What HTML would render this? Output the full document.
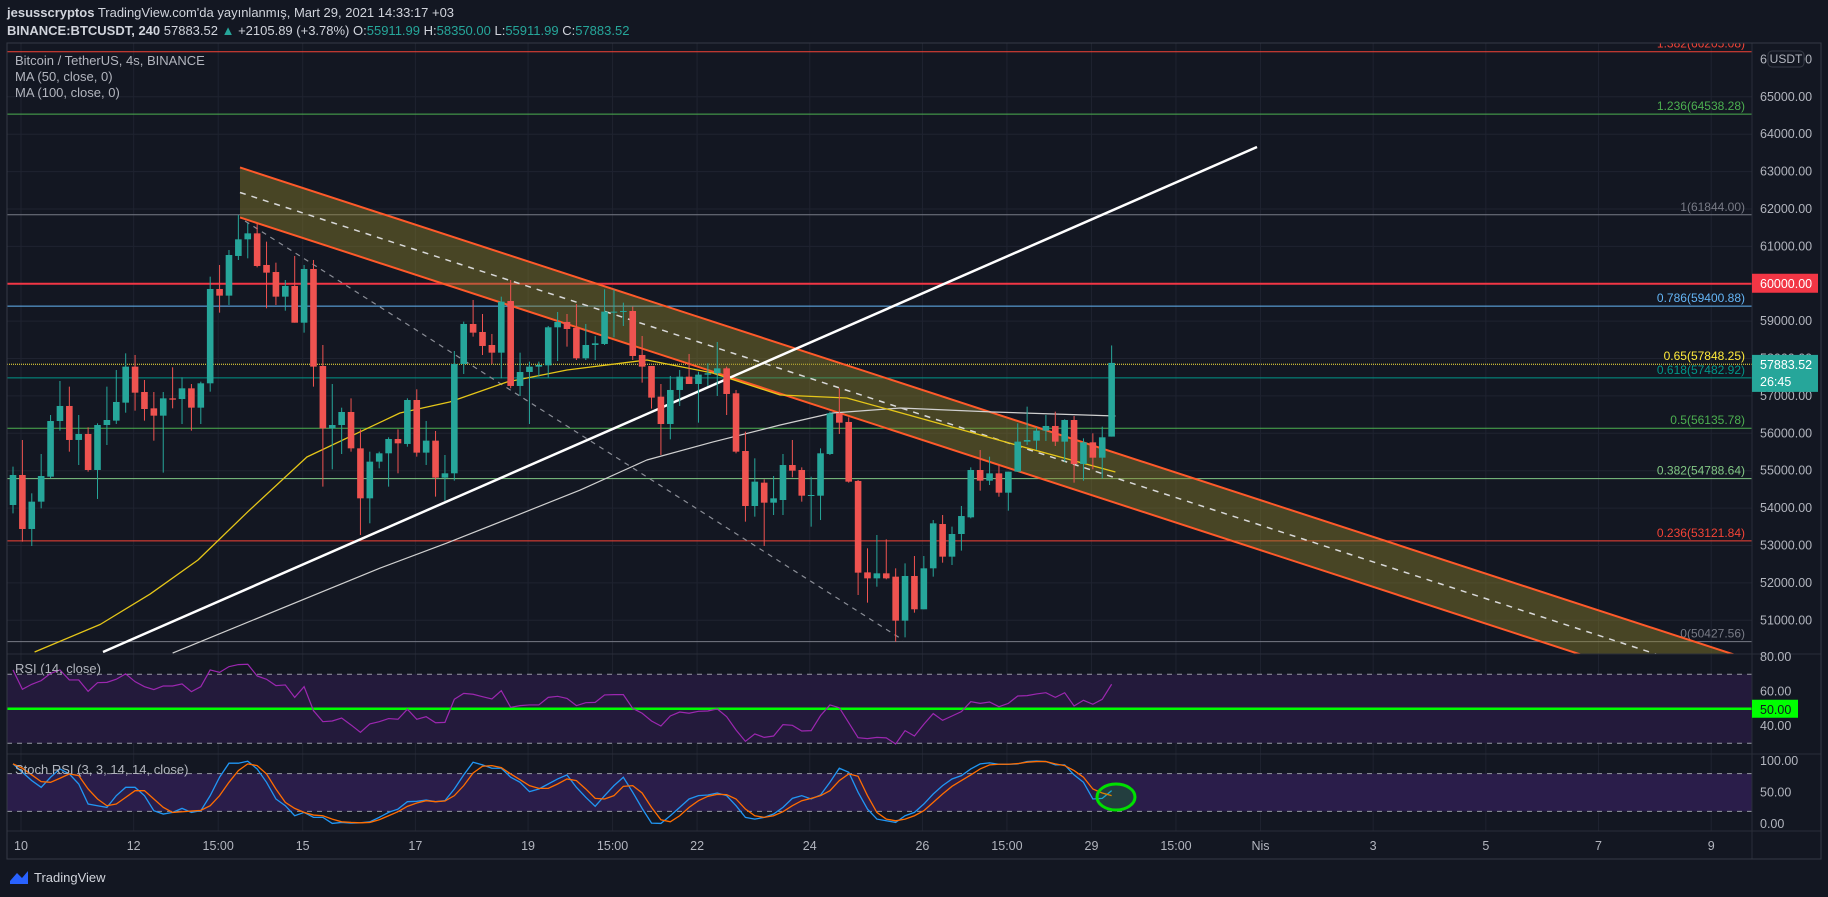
<!DOCTYPE html>
<html><head><meta charset="utf-8"><style>
html,body{margin:0;padding:0;background:#131722;}
svg{display:block;font-family:"Liberation Sans",sans-serif;}
</style></head><body>
<svg id="chart" width="1828" height="897" viewBox="0 0 1828 897" xmlns="http://www.w3.org/2000/svg">
<rect x="0" y="0" width="1828" height="897" fill="#131722"/>
<g font-size="13" fill="#d1d4dc">
<text x="7" y="17"><tspan font-weight="bold">jesusscryptos</tspan> TradingView.com'da yayınlanmış, Mart 29, 2021 14:33:17 +03</text>
<text x="7" y="35"><tspan font-weight="bold">BINANCE:BTCUSDT, 240</tspan> 57883.52 <tspan fill="#26a69a">▲</tspan> +2105.89 (+3.78%) O:<tspan fill="#26a69a">55911.99</tspan> H:<tspan fill="#26a69a">58350.00</tspan> L:<tspan fill="#26a69a">55911.99</tspan> C:<tspan fill="#26a69a">57883.52</tspan></text>
</g>
<defs>
<clipPath id="mainClip"><rect x="7" y="43" width="1745" height="611"/></clipPath>
<clipPath id="rsiClip"><rect x="7" y="654" width="1745" height="100"/></clipPath>
<clipPath id="stClip"><rect x="7" y="754" width="1745" height="77"/></clipPath>
</defs>
<g id="grid"></g>
<g id="main" clip-path="url(#mainClip)"></g>
<g id="rsi" clip-path="url(#rsiClip)"></g>
<g id="stoch" clip-path="url(#stClip)"></g>
<g id="axes"></g>
<g font-size="13" fill="#b2b5be">
<text x="15" y="65">Bitcoin / TetherUS, 4s, BINANCE</text>
<text x="15" y="81">MA (50, close, 0)</text>
<text x="15" y="97">MA (100, close, 0)</text>
<text x="15" y="673">RSI (14, close)</text>
<text x="15" y="774">Stoch RSI (3, 3, 14, 14, close)</text>
</g>
<g>
<path d="M10 881 L17 873 L22 878 L28 871 L28 884 L10 884 Z" fill="#2962ff"/>
<text x="34" y="882" font-size="13" fill="#d1d4dc">TradingView</text>
</g>
<script>
// ---------- data ----------
const opens=[54083,54885,53441,54172,54840,56329,56731,55822,55982,55019,56222,56339,56820,57783,57105,56668,56472,56935,56917,57203,56686,57337,59860,59682,60743,61188,61348,60502,60314,59655,59940,58959,60395,57800,56133,56222,56570,55598,54261,55242,55465,55848,55715,56891,55483,55804,54814,54930,57854,58924,58710,58362,58157,59539,57266,57640,57783,57818,58835,58978,58817,58006,58362,58389,59236,59254,59272,58095,57801,56980,56249,57159,57515,57319,57569,57605,57738,57070,55527,54056,54680,54145,54216,55152,55019,54332,54332,55447,56535,56303,54725,52281,52121,52255,52166,50989,52184,51293,52389,53574,52701,53307,53753,55019,54733,54929,54412,54974,55777,55803,56071,56196,55777,56356,55179,55759,55348,55911.99];
const highs=[55108,55821,54395,55447,56490,57399,57248,56490,56160,56267,57248,57693,58139,58095,57426,57105,57105,57765,57497,57319,57381,60190,60502,60903,61839,61616,61598,61126,60564,60100,60743,60502,60636,58362,57319,56686,56935,56107,55509,55509,55893,56107,56936,57177,56330,56062,55420,58202,58986,59566,59191,58657,59655,60100,58157,57917,57917,58871,59245,59191,59459,58924,58603,59851,59851,59494,59388,58603,57801,57319,57533,57694,58122,57649,57872,58443,57783,57159,56044,55331,54770,54858,55447,55821,55090,54840,55598,56579,57203,56427,54751,52924,53280,53164,52389,52522,52719,52719,53681,53815,53503,54056,55090,55554,55375,55152,54974,56267,56713,56160,56490,56579,56374,56463,55866,56000,56178,58350];
const lows=[53860,53102,52986,53994,54796,56071,55509,55153,54974,54244,55687,56249,56552,56606,56338,55803,54948,56668,56249,56071,56249,57114,59227,59432,60635,60680,60439,59343,59432,59280,58959,58692,57248,54573,55037,55447,55509,53281,53593,55064,54573,54930,55643,55376,55153,54306,54199,54734,57587,58585,58095,57854,57471,57203,56998,56249,57515,57497,57934,58318,57961,57961,57961,58362,58567,58870,57961,57355,56660,55420,55839,56731,57319,56285,57266,56998,56490,55465,53637,53771,52986,53815,53815,54823,54172,53503,53681,55420,55982,54680,51676,51471,51898,52095,50427,50543,51203,51293,52166,52540,52478,52862,53726,54466,54617,54305,53931,54974,55688,55554,55795,55661,55242,54680,54733,55037,54796,55911.99];
const closes=[54885,53441,54172,54858,56329,56731,55822,55982,55019,56222,56356,56838,57783,57087,56650,56472,56935,56900,57203,56686,57337,59860,59682,60769,61188,61348,60475,60297,59655,59940,58959,60395,57783,56133,56222,56570,55598,54261,55242,55465,55848,55732,56891,55483,55804,54814,54930,57854,58924,58692,58336,58157,59521,57266,57640,57783,57827,58835,58978,58790,58006,58362,58407,59254,59254,59272,58068,57783,56954,56249,57159,57515,57319,57569,57605,57738,57052,55509,54056,54707,54145,54261,55152,55001,54332,54350,55465,56535,56285,54707,52273,52121,52255,52121,50989,52184,51293,52389,53592,52701,53307,53788,55019,54733,54929,54412,54974,55777,55821,56071,56196,55777,56356,55179,55759,55348,55893,57883.52];
const ma50Idx=[2.3,9.3,14.6,19.7,25,31.3,41.2,46.5,52.6,59,67.5,74.5,81.7,88.8,97.3,108,117.4];
const ma50Val=[50151,50890,51700,52612,53900,55367,56543,56838,57373,57694,57961,57613,57025,56945,56356,55607,54965];
const ma100Idx=[17,39.1,46.2,53.2,60.4,67.5,74.5,81.7,87.3,94.5,104.4,117.4];
const ma100Val=[50124,52397,53066,53761,54483,55286,55767,56222,56543,56677,56570,56463];
const rsiVals=[72.5,61.3,64.2,66.3,70.5,72.5,66.7,66.7,60.1,65.1,65.3,67.1,70.2,65.7,62.8,61.1,63.2,63.2,64.4,59.9,62.8,72.5,71.1,74.4,75.6,75.8,69,67.1,63.4,63.8,56.6,62.8,48.9,42.5,42.9,44.6,40.6,36.3,41.2,42.5,44.3,43.9,49.7,43.9,45.4,41.9,42.1,55.5,58.9,58.4,57,55.7,60.5,50.8,51.8,52.2,52.2,56.6,57.2,56,51.8,53.5,53.7,58,58.2,58.2,50.2,47.4,42.9,40,45.8,48.1,47.4,48.5,48.7,49.9,45.4,37.7,31.1,35.4,33.4,34.2,40.8,40.4,37.1,37.3,46,52.2,50.6,41.9,33.2,32.7,33.4,33.1,29.6,37.3,34.2,41,47.2,43.3,45.8,48.3,54.1,53.1,53.9,51.2,53.1,57.4,57.6,58.6,59.3,56.6,59.3,51.6,54.9,52.6,55.5,64.2];
const stochK=[95.4,82.1,68.9,58.2,74.2,87.4,79.5,63.5,31.7,29,26.4,45,58.2,58.2,45,21.1,15.8,18.4,24.8,18.4,21.1,45,74.2,96.5,96.5,99.7,87.4,66.2,39.7,29,13.1,18.4,10.5,10.5,0.9,2.5,1.4,1.9,3.5,10.5,18.4,23.7,35.4,36,38.1,35.4,37,55.6,77.9,98.1,93.8,88.5,88.5,74.2,66.2,51.3,55.6,63.5,71.5,77.9,58.2,42.3,28,45,60.9,74.2,50.3,24.8,1.4,0.9,13.1,26.4,39.7,45,46,49.2,45,29,10.5,7.8,10.5,15.8,26.4,40.7,45,39.7,46,66.2,88.5,82.1,50.3,23.7,7.8,5.1,2.5,13.1,18.4,31.7,47.6,60.9,71.5,76.8,87.4,95.4,97,94.9,94.9,95.4,99.1,100,99.1,93.8,93.8,77.9,66.2,39.7,40.7,52.9];
const stochD=[95.4,88.5,77.9,67.3,66.2,72.6,79.5,76.8,55.6,39.7,29,31.7,42.3,52.9,52.9,39.7,26.4,18.4,19.5,20.5,21.6,29,45,66.2,84.8,95.4,92.7,79.5,55.6,34.3,24.8,18.4,14.2,13.1,7.8,3.5,2.5,1.9,2.5,6.7,13.1,19.5,28,33.3,37,35.4,36.5,45,60.9,81,91.7,92.7,89.6,79.5,70.4,60.9,56.6,56.6,63.5,71.5,68.9,55.6,40.7,39.7,45,59.8,60.9,49.2,26.4,6.7,3.5,13.1,26.4,37,43.9,47.1,46.6,39.7,23.7,13.1,10.5,13.1,19.5,29,37,40.7,45,52.9,68.9,79.5,75.8,45,18.4,7.8,5.1,7.8,13.1,21.1,34.3,47.6,59.8,68.9,77.9,87.4,93.8,94.9,94.9,95.9,98.1,99.1,99.1,95.4,92.7,84.8,74.2,55.6,49.2,45];
const priceTicks=[51000,52000,53000,54000,55000,56000,57000,58000,59000,60000,61000,62000,63000,64000,65000];
const timeLabels=["10","12","15:00","15","17","19","15:00","22","24","26","15:00","29","15:00","Nis","3","5","7","9"];
const timeIdx=[0,12,21,30,42,54,63,72,84,96,105,114,123,132,144,156,168,180];
const fibLevels=["1.382","1.236","1","0.786","0.65","0.618","0.5","0.382","0.236","0"];
const fibPrices=[66205.08,64538.28,61844.00,59400.88,57848.25,57482.92,56135.78,54788.64,53121.84,50427.56];
const fibColors=["#f44336","#4caf50","#787b86","#64b5f6","#ffeb3b","#009688","#4caf50","#81c784","#f44336","#787b86"];

// ---------- scales ----------
const NS="http://www.w3.org/2000/svg";
function xOf(i){return 13+i*9.39;}
function yP(p){return 96.8+(65000-p)*0.03739;}
function yR(r){return 657+(80-r)*1.725;}
function yS(s){return 761+(100-s)*0.63;}
function mk(tag,attrs,parent){const e=document.createElementNS(NS,tag);for(const k in attrs)e.setAttribute(k,attrs[k]);parent.appendChild(e);return e;}
const grid=document.getElementById('grid'),main=document.getElementById('main'),rsiG=document.getElementById('rsi'),stG=document.getElementById('stoch'),axes=document.getElementById('axes');

priceTicks.forEach(p=>{const l=mk('line',{x1:7,x2:1752,y1:yP(p),y2:yP(p),stroke:'#1f2330','stroke-width':1},grid);

});
timeIdx.forEach(i=>{const x=xOf(i)+8;const l=mk('line',{x1:x,x2:x,y1:43,y2:831,stroke:'#1f2330','stroke-width':1},grid);

});

fibLevels.forEach((lv,k)=>{const y=yP(fibPrices[k]);
const l=mk('line',{x1:7,x2:1752,y1:y,y2:y,stroke:fibColors[k],'stroke-width':1},main);
if(lv==='0.65')l.setAttribute('stroke-dasharray','1,1');


const t=mk('text',{x:1745,y:y-4,'text-anchor':'end','font-size':12,fill:fibColors[k]},main);
t.textContent=lv+'('+fibPrices[k].toFixed(2)+')';

});
const r60=mk('line',{x1:7,x2:1752,y1:yP(60000),y2:yP(60000),stroke:'#f23645','stroke-width':2},main);



const slope=0.326;
function upY(x){return 337+(x-760)*slope;} function loY(x){return 387+(x-760)*slope;}
const band=mk('polygon',{points:`240,${upY(240)} 1800,${upY(1800)} 1800,${loY(1800)} 240,${loY(240)}`,fill:'#8a7f2a','fill-opacity':0.45},main);


const cu=mk('line',{x1:240,y1:upY(240),x2:1800,y2:upY(1800),stroke:'#ff5a2a','stroke-width':2},main);


const cl=mk('line',{x1:240,y1:loY(240),x2:1800,y2:loY(1800),stroke:'#ff5a2a','stroke-width':2},main);


const cm=mk('line',{x1:240,y1:(upY(240)+loY(240))/2,x2:1800,y2:(upY(1800)+loY(1800))/2,stroke:'#d8d8d8','stroke-width':1.5,'stroke-dasharray':'6,6'},main);


const gd=mk('line',{x1:245,y1:221,x2:903,y2:640,stroke:'#8a8d96','stroke-width':1.2,'stroke-dasharray':'5,5'},main);


const wt=mk('line',{x1:103,y1:652,x2:1257,y2:147,stroke:'#ffffff','stroke-width':2.5},main);



function poly(idx,val,color,w,name){const pts=idx.map((i,k)=>xOf(i)+','+yP(val[k])).join(' ');
const p=mk('polyline',{points:pts,fill:'none',stroke:color,'stroke-width':w,'stroke-linejoin':'round'},main);

}
poly(ma100Idx,ma100Val,'#d0d0d0',1.2,'ma100-line');
poly(ma50Idx,ma50Val,'#e5c619',1.3,'ma50-line');

closes.forEach((c,i)=>{const o=opens[i],x=xOf(i);const up=c>=o;const col=up?'#26a69a':'#ef5350';
const w=mk('line',{x1:x,x2:x,y1:yP(highs[i]),y2:yP(lows[i]),stroke:col,'stroke-width':1},main);


const top=yP(Math.max(o,c)),h=Math.max(1,yP(Math.min(o,c))-top);
const b=mk('rect',{x:x-3.3,y:top,width:6.6,height:h,fill:col},main);

});

const rb=mk('rect',{x:7,y:yR(70),width:1745,height:yR(30)-yR(70),fill:'#231a3b'},rsiG);


[70,30].forEach(v=>{const l=mk('line',{x1:7,x2:1752,y1:yR(v),y2:yR(v),stroke:'#9598a1','stroke-dasharray':'5,5'},rsiG);

});
const r50=mk('line',{x1:7,x2:1752,y1:yR(50),y2:yR(50),stroke:'#00ff00','stroke-width':2.5},rsiG);


const rl=mk('polyline',{points:rsiVals.map((v,i)=>xOf(i)+','+yR(v)).join(' '),fill:'none',stroke:'#9c27b0','stroke-width':1.2},rsiG);



const sb=mk('rect',{x:7,y:yS(80),width:1745,height:yS(20)-yS(80),fill:'#2a1d4a'},stG);


[80,20].forEach(v=>{const l=mk('line',{x1:7,x2:1752,y1:yS(v),y2:yS(v),stroke:'#9598a1','stroke-dasharray':'5,5'},stG);

});
const kl=mk('polyline',{points:stochK.map((v,i)=>xOf(i)+','+yS(v)).join(' '),fill:'none',stroke:'#2196f3','stroke-width':1.3},stG);


const dl=mk('polyline',{points:stochD.map((v,i)=>xOf(i)+','+yS(v)).join(' '),fill:'none',stroke:'#ff6d00','stroke-width':1.3},stG);


const ell=mk('ellipse',{cx:1116,cy:797,rx:19,ry:13,fill:'rgba(0,255,0,0.15)',stroke:'#00e000','stroke-width':3},stG);



[[7,654,1821,654],[7,754,1821,754],[7,831,1821,831],[1752,43,1752,859]].forEach(a=>{const l=mk('line',{x1:a[0],y1:a[1],x2:a[2],y2:a[3],stroke:'#2a2e39','stroke-width':1},axes);

});
const fr=mk('rect',{x:7,y:43,width:1814,height:816,fill:'none',stroke:'#363a45','stroke-width':1},axes);



priceTicks.forEach(p=>{const t=mk('text',{x:1760,y:yP(p)+4,'font-size':12.5,fill:'#b2b5be'},axes);t.textContent=p.toFixed(2);

});
const t66=mk('text',{x:1760,y:yP(66000)+4,'font-size':12.5,fill:'#b2b5be'},axes);t66.textContent='66000.00';


const ub=mk('rect',{x:1768,y:51,width:36,height:16,rx:4,fill:'#131722',stroke:'#363a45'},axes);


const ut=mk('text',{x:1786,y:63,'font-size':12,fill:'#b2b5be','text-anchor':'middle'},axes);ut.textContent='USDT';


const b60=mk('rect',{x:1752,y:yP(60000)-10,width:66,height:19,fill:'#f23645'},axes);


const t60=mk('text',{x:1760,y:yP(60000)+4,'font-size':12.5,fill:'#fff'},axes);t60.textContent='60000.00';


const last=closes[closes.length-1];
const cb=mk('rect',{x:1752,y:yP(last)-8,width:66,height:37,fill:'#26a69a'},axes);


const ct=mk('text',{x:1760,y:yP(last)+6,'font-size':12.5,fill:'#fff'},axes);ct.textContent=last.toFixed(2);


const cd=mk('text',{x:1760,y:yP(last)+23,'font-size':12.5,fill:'#fff'},axes);cd.textContent='26:45';


[[80,'80.00'],[60,'60.00'],[40,'40.00']].forEach(a=>{const t=mk('text',{x:1760,y:yR(a[0])+4,'font-size':12.5,fill:'#b2b5be'},axes);t.textContent=a[1];

});
const gb=mk('rect',{x:1752,y:yR(50)-9,width:46,height:18,fill:'#00ff00'},axes);


const gt=mk('text',{x:1760,y:yR(50)+5,'font-size':12.5,fill:'#131722'},axes);gt.textContent='50.00';


[[100,'100.00'],[50,'50.00'],[0,'0.00']].forEach(a=>{const t=mk('text',{x:1760,y:yS(a[0])+4,'font-size':12.5,fill:'#b2b5be'},axes);t.textContent=a[1];

});
timeLabels.forEach((s,k)=>{const t=mk('text',{x:xOf(timeIdx[k])+8,y:850,'font-size':12.5,fill:'#b2b5be','text-anchor':'middle'},axes);t.textContent=s;

});
</script>
</svg>
</body></html>
